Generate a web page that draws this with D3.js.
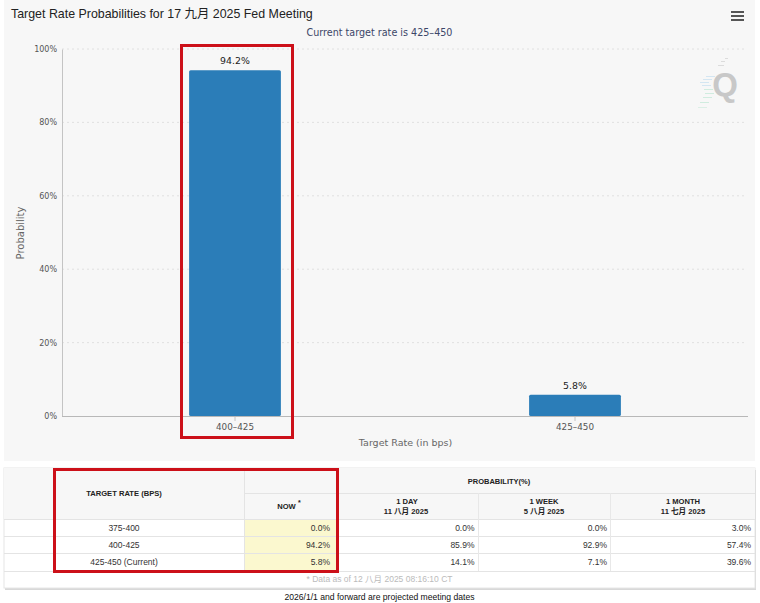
<!DOCTYPE html>
<html>
<head>
<meta charset="utf-8">
<script src="https://cdn.jsdelivr.net/npm/d3@7/dist/d3.min.js"></script>
<style>
    html, body { margin: 0; padding: 0; background: #fff; }
    svg { display: block; }
    text { font-family: "DejaVu Sans", sans-serif; }
</style>
</head>
<body>
<script>
    var categories = ['400-425', '425-450'];
    var probabilities = [94.2, 5.8];
    var yTicks = [0, 20, 40, 60, 80, 100];

    var tableRates = ['375-400', '400-425', '425-450 (Current)'];
    var tableNow = ['0.0%', '94.2%', '5.8%'];
    var tableDay = ['0.0%', '85.9%', '14.1%'];
    var tableWeek = ['0.0%', '92.9%', '7.1%'];
    var tableMonth = ['3.0%', '57.4%', '39.6%'];

    var arial = '"Liberation Sans", "Noto Sans CJK SC", sans-serif';

    var svg = d3.select('body').append('svg').attr('width', 760).attr('height', 603);

    // chart panel
    svg.append('rect').attr('x', 4).attr('y', 0).attr('width', 751).attr('height', 461).attr('fill', '#f7f7f7');

    var x = d3.scaleBand().domain(categories).range([65, 745]).paddingInner(0.73).paddingOuter(0.365);
    var y = d3.scaleLinear().domain([0, 100]).range([416, 49]);

    // grid
    svg.append('g').selectAll('line')
        .data(yTicks.filter(function(d) { return d > 0; }))
        .enter().append('line')
        .attr('x1', 62).attr('x2', 747)
        .attr('y1', function(d) { return y(d); })
        .attr('y2', function(d) { return y(d); })
        .attr('stroke', '#e0e0e0')
        .attr('stroke-dasharray', '2,3');

    // Q logo
    var logo = svg.append('g');
    logo.append('text').attr('x', 725).attr('y', 96).attr('text-anchor', 'middle')
        .style('font-family', arial)
        .style('font-size', '33px').style('font-weight', 'bold').attr('fill', '#c8c8c8').text('Q');
    [[725, 58, 728], [721, 61, 725], [718, 65, 724]].forEach(function(s) {
        logo.append('line').attr('x1', s[0]).attr('x2', s[2]).attr('y1', s[1] + 0.5).attr('y2', s[1] + 0.5).attr('stroke', '#dcdcdc');
    });
    [[706, 76, '#d4e6f2'], [703, 79, '#d4e6f2'], [700, 82, '#d4e6f2'], [702, 85, '#d4e6f2'], [704, 89, '#d0ecdf'], [705, 93, '#d0ecdf'], [703, 97, '#d0ecdf'], [700, 102, '#d0ecdf'], [698, 107, '#dcefe6']].forEach(function(s) {
        logo.append('line').attr('x1', s[0]).attr('x2', s[0] + 9).attr('y1', s[1] + 0.5).attr('y2', s[1] + 0.5).attr('stroke', s[2]);
    });

    // axes
    var yAxis = d3.axisLeft(y).tickValues(yTicks).tickSize(0).tickPadding(5).tickFormat(function(d) { return d + '%'; });
    var yG = svg.append('g').attr('transform', 'translate(62,0)').call(yAxis);
    yG.select('.domain').attr('stroke', '#c4c4c4');
    yG.selectAll('text').attr('fill', '#555').style('font-size', '8px').style('font-family', '"DejaVu Sans"');

    var xAxis = d3.axisBottom(x).tickSize(5).tickPadding(3);
    var xG = svg.append('g').attr('transform', 'translate(0,416)').call(xAxis);
    xG.select('.domain').remove();
    xG.selectAll('line').attr('stroke', '#c4c4c4');
    xG.selectAll('text').attr('fill', '#555').style('font-size', '8.8px').style('font-family', '"DejaVu Sans"')
        .text(function(d) { return d.replace('-', '\u2013'); });
    svg.append('line').attr('x1', 62).attr('x2', 748).attr('y1', 416.5).attr('y2', 416.5).attr('stroke', '#b8b8b8');

    // bars
    svg.append('g').selectAll('rect')
        .data(categories)
        .enter().append('rect')
        .attr('x', function(d) { return x(d); })
        .attr('y', function(d, i) { return y(probabilities[i]); })
        .attr('width', x.bandwidth())
        .attr('height', function(d, i) { return y(0) - y(probabilities[i]); })
        .attr('rx', 1.5)
        .attr('fill', '#2b7db8');

    svg.append('g').selectAll('text')
        .data(categories)
        .enter().append('text')
        .attr('x', function(d) { return x(d) + x.bandwidth() / 2; })
        .attr('y', function(d, i) { return y(probabilities[i]) - 6; })
        .attr('text-anchor', 'middle')
        .attr('fill', '#222')
        .style('font-size', '9.4px')
        .text(function(d, i) { return probabilities[i].toFixed(1) + '%'; });

    // titles
    svg.append('text').attr('x', 11).attr('y', 18)
        .style('font-family', arial).style('font-size', '12.4px').attr('fill', '#222')
        .text('Target Rate Probabilities for 17 九月 2025 Fed Meeting');
    svg.append('text').attr('x', 379.5).attr('y', 35.5).attr('text-anchor', 'middle')
        .style('font-size', '9.6px').attr('fill', '#3c4668').text('Current target rate is 425\u2013450');
    svg.append('text').attr('x', 405.5).attr('y', 446).attr('text-anchor', 'middle')
        .style('font-size', '9.5px').attr('fill', '#666').text('Target Rate (in bps)');
    svg.append('text').attr('transform', 'translate(24,233) rotate(-90)').attr('text-anchor', 'middle')
        .style('font-size', '10px').attr('fill', '#666').text('Probability');

    // menu icon
    svg.append('g').selectAll('rect').data([0, 1, 2]).enter().append('rect')
        .attr('x', 731).attr('y', function(d) { return 11 + d * 4; })
        .attr('width', 13).attr('height', 2).attr('fill', '#555');

    // table
    var colEdges = [4, 244, 336, 478, 610, 755];
    var rowEdges = [519, 536, 553, 571];
    var table = svg.append('g');
    table.append('rect').attr('x', 5).attr('y', 470).attr('width', 751).attr('height', 120).attr('fill', '#d8d8d8');
    table.append('rect').attr('x', 4).attr('y', 468).attr('width', 751).attr('height', 120).attr('fill', '#fff').attr('stroke', '#e6e6e6');
    table.append('rect').attr('x', 4).attr('y', 468).attr('width', 751).attr('height', 51).attr('fill', '#f7f7f7');
    table.append('rect').attr('x', colEdges[1]).attr('y', rowEdges[0]).attr('width', colEdges[2] - colEdges[1]).attr('height', rowEdges[3] - rowEdges[0]).attr('fill', '#fbf8cf');

    rowEdges.forEach(function(r) {
        table.append('line').attr('x1', 4).attr('x2', 755).attr('y1', r + 0.5).attr('y2', r + 0.5).attr('stroke', '#e4e4e4');
    });
    table.append('line').attr('x1', 244).attr('x2', 755).attr('y1', 493.5).attr('y2', 493.5).attr('stroke', '#e4e4e4');
    table.append('line').attr('x1', 244.5).attr('x2', 244.5).attr('y1', 468).attr('y2', 571).attr('stroke', '#e4e4e4');
    colEdges.slice(2, 5).forEach(function(c) {
        table.append('line').attr('x1', c + 0.5).attr('x2', c + 0.5).attr('y1', 493).attr('y2', 571).attr('stroke', '#e8e8e8');
    });

    function cell(px, py, anchor, size, weight, color, str) {
        table.append('text').attr('x', px).attr('y', py).attr('text-anchor', anchor)
            .style('font-family', arial)
            .style('font-size', size + 'px').style('font-weight', weight).attr('fill', color).text(str);
    }

    cell(124, 496, 'middle', 7.6, 'bold', '#222', 'TARGET RATE (BPS)');
    cell(499, 484, 'middle', 7.5, 'bold', '#222', 'PROBABILITY(%)');
    cell(286.5, 509, 'middle', 7.6, 'bold', '#222', 'NOW');
    cell(298, 505, 'start', 7, 'bold', '#222', '*');
    cell(407, 504, 'middle', 7.6, 'bold', '#222', '1 DAY');
    cell(406, 514, 'middle', 7.6, 'bold', '#222', '11 八月 2025');
    cell(544, 504, 'middle', 7.6, 'bold', '#222', '1 WEEK');
    cell(544, 514, 'middle', 7.6, 'bold', '#222', '5 八月 2025');
    cell(683, 504, 'middle', 7.6, 'bold', '#222', '1 MONTH');
    cell(683, 514, 'middle', 7.6, 'bold', '#222', '11 七月 2025');

    tableRates.forEach(function(r, i) {
        var py = rowEdges[i] + 12;
        cell(124, py, 'middle', 8.5, 'normal', '#333', r);
        cell(330, py, 'end', 8.5, 'normal', '#333', tableNow[i]);
        cell(474.5, py, 'end', 8.5, 'normal', '#333', tableDay[i]);
        cell(607, py, 'end', 8.5, 'normal', '#333', tableWeek[i]);
        cell(751, py, 'end', 8.5, 'normal', '#333', tableMonth[i]);
    });

    cell(379.5, 582, 'middle', 8.5, 'normal', '#bbb', '* Data as of 12 八月 2025 08:16:10 CT');
    cell(379.5, 600, 'middle', 8.6, 'normal', '#111', '2026/1/1 and forward are projected meeting dates');

    // red highlight boxes
    svg.append('rect').attr('x', 181.5).attr('y', 45.5).attr('width', 111).attr('height', 392)
        .attr('fill', 'none').attr('stroke', '#cc1019').attr('stroke-width', 3);
    svg.append('rect').attr('x', 54.5).attr('y', 469.5).attr('width', 283).attr('height', 102)
        .attr('fill', 'none').attr('stroke', '#cc1019').attr('stroke-width', 3);
</script>
</body>
</html>
